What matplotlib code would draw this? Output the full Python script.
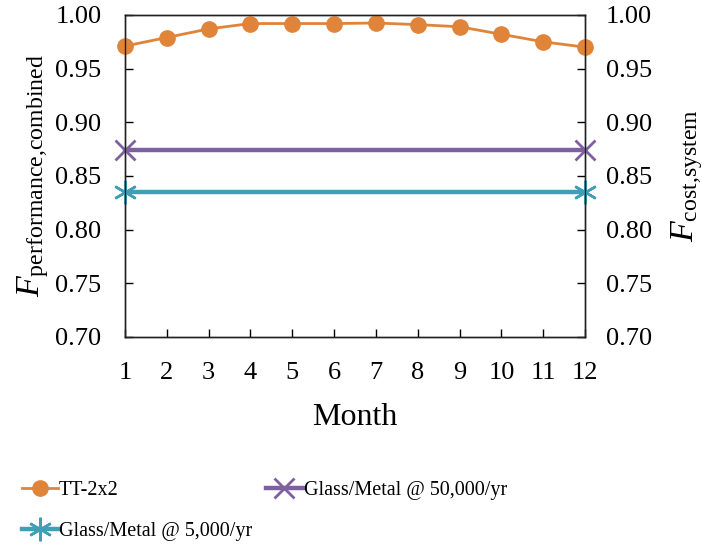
import matplotlib
matplotlib.use("Agg")
import matplotlib.pyplot as plt

plt.rcParams["font.family"] = ["Liberation Serif", "DejaVu Serif"]
plt.rcParams["mathtext.fontset"] = "custom"
plt.rcParams["mathtext.rm"] = "Liberation Serif"
plt.rcParams["mathtext.it"] = "Liberation Serif:italic"

months = list(range(1, 13))
tt_2x2 = [0.971, 0.979, 0.987, 0.992, 0.992, 0.992, 0.9925, 0.991, 0.989, 0.982, 0.975, 0.970]
cost_months = [1, 12]
glass_metal_50k = [0.874, 0.874]
glass_metal_5k = [0.835, 0.835]
y_ticks = [0.70, 0.75, 0.80, 0.85, 0.90, 0.95, 1.00]

c_orange = "#E0843A"
c_purple = "#7E5FA0"
c_teal = "#3FA0B5"

fig = plt.figure(figsize=(7.11, 5.5), dpi=100)
ax = fig.add_axes([0.1758, 0.3873, 0.6470, 0.5855])
ax2 = ax.twinx()

l1, = ax.plot(months, tt_2x2, color=c_orange, lw=2, marker="o", ms=11,
              label="TT-2x2", zorder=5, clip_on=False)
l2, = ax2.plot(cost_months, glass_metal_50k, color=c_purple, lw=3.2, marker="x",
               ms=14, mew=2, label="Glass/Metal @ 50,000/yr", clip_on=False)
l3, = ax2.plot(cost_months, glass_metal_5k, color=c_teal, lw=3.2, marker=(6, 2, 0),
               ms=17, mew=1.8, label="Glass/Metal @ 5,000/yr", clip_on=False)

for a in (ax, ax2):
    a.set_ylim(0.70, 1.00)
    a.set_yticks(y_ticks)
    a.set_yticklabels([f"{v:.2f}" for v in y_ticks])
    a.tick_params(direction="in", length=6, width=1, labelsize=19)
    for s in a.spines.values():
        s.set_linewidth(1)
        s.set_color("#222222")

ax.tick_params(axis="y", pad=17)
ax2.tick_params(axis="y", pad=15)
ax.set_xlim(1, 12)
ax.set_xticks(months)
ax.tick_params(axis="x", pad=18)

ax.set_xlabel("Month", fontsize=23, labelpad=14)
ax.set_ylabel(r"$F_{\mathrm{performance{,}combined}}$", fontsize=24.5, labelpad=3)
ax2.set_ylabel(r"$F_{\mathrm{cost{,}system}}$", fontsize=24.5, labelpad=12)

fig.legend(handles=[l1, l3, l2], loc="lower left", bbox_to_anchor=(0.005, -0.017),
           ncol=2, frameon=False, fontsize=14.5, handlelength=1.8,
           handletextpad=0.05, columnspacing=0.7, labelspacing=1.1)

fig.savefig("out.png", dpi=100)
